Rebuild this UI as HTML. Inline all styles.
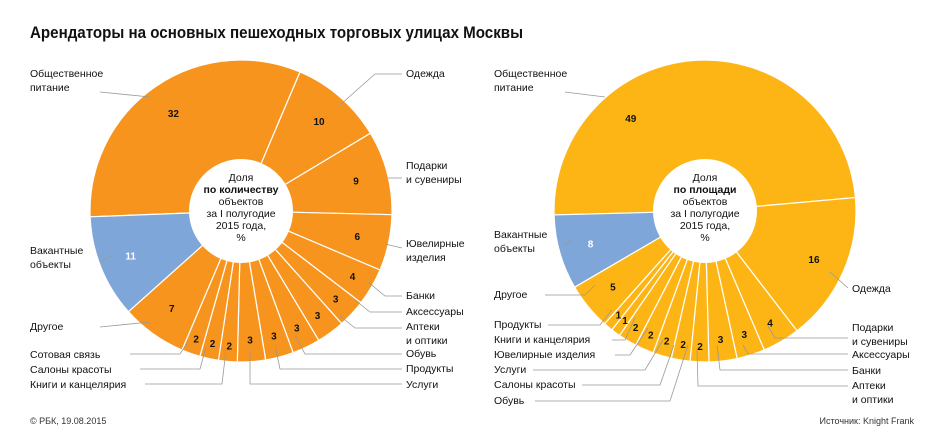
<!DOCTYPE html>
<html><head><meta charset="utf-8"><style>
body{margin:0;background:#fff;font-family:"Liberation Sans","Noto Sans CJK SC",sans-serif}
svg text{font-family:"Liberation Sans","Noto Sans CJK SC",sans-serif}
</style></head><body>
<svg id="c" width="945" height="441" viewBox="0 0 945 441">
<text x="30" y="38" font-size="17" font-weight="bold" fill="#111" textLength="493" lengthAdjust="spacingAndGlyphs">Арендаторы на основных пешеходных торговых улицах Москвы</text>
<text x="30" y="424" font-size="9" fill="#333">© РБК, 19.08.2015</text>
<text x="914" y="424" font-size="9" fill="#333" text-anchor="end">Источник: Knight Frank</text>
<g id="g1"></g><g id="g2"></g><g id="lab"></g>
</svg>
<script>
const leftValues=[32,10,9,6,4,3,3,3,3,3,2,2,2,7,11];
const leftVacant=[false,false,false,false,false,false,false,false,false,false,false,false,false,false,true];
const rightValues=[49,16,4,3,3,2,2,2,2,2,1,1,5,8];
const rightVacant=[false,false,false,false,false,false,false,false,false,false,false,false,false,true];
const NS="http://www.w3.org/2000/svg";
function mk(t,a,p){const e=document.createElementNS(NS,t);for(const k in a)e.setAttribute(k,a[k]);p.appendChild(e);return e;}
function pt(cx,cy,r,deg){const a=deg*Math.PI/180;return [cx+r*Math.sin(a),cy-r*Math.cos(a)];}
function donut(gid,vals,vac,cx,cy,R,r,start,col,txt){
  const g=document.getElementById(gid);const tot=vals.reduce((a,b)=>a+b,0);let a0=start;
  vals.forEach((v,i)=>{const a1=a0+v/tot*360;const big=(a1-a0)>180?1:0;
    const p1=pt(cx,cy,R,a0),p2=pt(cx,cy,R,a1);
    const s=mk('path',{d:`M${cx},${cy}L${p1[0]},${p1[1]}A${R},${R} 0 ${big} 1 ${p2[0]},${p2[1]}Z`,fill:vac[i]?'#7fa6d8':col,stroke:'#fff','stroke-width':1.2},g);
    
    
    let m=(a0+a1)/2;if(v>40)m=a0+(a1-a0)*0.3;
    const rr=v<=2?R-16:(v<=4?R-22:R-32);const q=pt(cx,cy,rr,m);
    const t=mk('text',{x:q[0],y:q[1]+4,'font-size':10,'font-weight':'bold','text-anchor':'middle',fill:vac[i]?'#fff':'#111'},g);
    t.textContent=v;
    
    
    a0=a1;});
  const c=mk('circle',{cx:cx,cy:cy,r:r,fill:'#fff'},g);
  
  
  txt.forEach((s,i)=>{const t=mk('text',{x:cx,y:cy-30+i*12,'font-size':10.5,'text-anchor':'middle',fill:'#111','font-weight':i==1?'bold':'normal'},g);t.textContent=s;
    
    });
}
donut('g1',leftValues,leftVacant,241,211,151,52,-92.2,'#f7941e',['Доля','по количеству','объектов','за I полугодие','2015 года,','%']);
donut('g2',rightValues,rightVacant,705,211,151,52,-91.5,'#fdb515',['Доля','по площади','объектов','за I полугодие','2015 года,','%']);
const labels=[
[30,77,'Общественное|питание','100,92 150,97'],[406,77,'Одежда','402,74 375,74 340,105'],
[406,169,'Подарки|и сувениры','402,178 388,178'],[406,247,'Ювелирные|изделия','402,248 385,244'],
[406,299,'Банки','402,296 385,296 368,282'],[406,315,'Аксессуары','402,312 370,312 355,300'],
[406,330,'Аптеки|и оптики','402,328 355,328 340,316'],[406,357,'Обувь','402,354 305,354 295,335'],
[406,372,'Продукты','402,369 280,369 275,345'],[406,388,'Услуги','402,384 250,384 250,350'],
[30,254,'Вакантные|объекты','100,262 112,255'],[30,330,'Другое','100,327 150,322'],
[30,358,'Сотовая связь','130,354 180,354 188,342'],[30,373,'Салоны красоты','140,369 200,369 206,347'],
[30,388,'Книги и канцелярия','145,384 222,384 226,350'],
[494,77,'Общественное|питание','565,92 605,97'],[494,238,'Вакантные|объекты','565,245 572,240'],
[494,298,'Другое','545,295 585,295 595,285'],[494,328,'Продукты','548,325 600,325 612,310'],
[494,343,'Книги и канцелярия','612,340 625,340 635,318'],[494,358,'Ювелирные изделия','615,355 630,355 648,328'],
[494,373,'Услуги','533,370 645,370 663,340'],[494,388,'Салоны красоты','582,385 660,385 674,345'],
[494,404,'Обувь','535,401 670,401 688,345'],[852,292,'Одежда','848,288 830,272'],
[852,331,'Подарки|и сувениры','848,338 775,338 768,326'],[852,358,'Аксессуары','848,354 748,354 743,345'],
[852,374,'Банки','848,370 720,370 717,345'],[852,389,'Аптеки|и оптики','848,386 698,386 697,350']];
const L=document.getElementById('lab');
labels.forEach((l,i)=>{const p=mk('polyline',{points:l[3],fill:'none',stroke:'#999','stroke-width':0.8},L);
  
  
  l[2].split('|').forEach((s,j)=>{const t=mk('text',{x:l[0],y:l[1]+j*14,'font-size':10.5,fill:'#111'},L);t.textContent=s;
    
    });});
</script>
</body></html>
